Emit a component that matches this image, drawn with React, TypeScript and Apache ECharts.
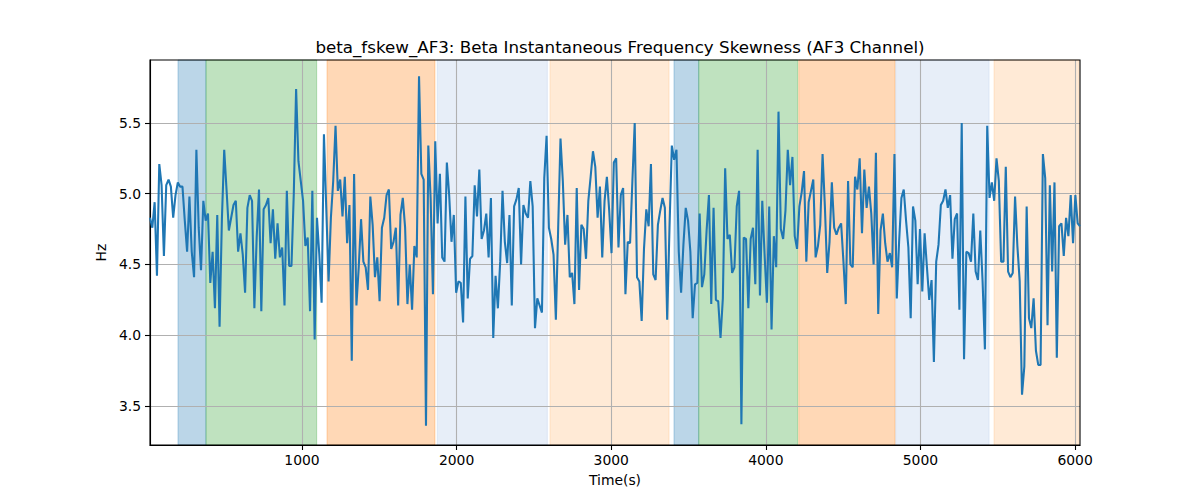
import React, { useEffect, useRef } from "react";
import * as echarts from "echarts";

const TITLE = "beta_fskew_AF3: Beta Instantaneous Frequency Skewness (AF3 Channel)";
const X_NAME = "Time(s)";
const Y_NAME = "Hz";

const T_START = 17;
const T_END = 6032;

const xTicks = [1000, 2000, 3000, 4000, 5000, 6000];
const yTicks = [3.5, 4.0, 4.5, 5.0, 5.5];

const values = [
  4.83, 4.76, 4.94, 4.42, 5.21, 5.06, 4.56, 5.06, 5.10, 5.05,
  4.83, 4.99, 5.08, 5.05, 5.05, 4.81, 4.59, 4.98, 4.59, 4.41,
  5.31, 4.76, 4.46, 4.95, 4.81, 4.86, 4.37, 4.59, 4.19, 4.85,
  4.06, 4.82, 5.31, 5.03, 4.74, 4.83, 4.92, 4.95, 4.59, 4.72,
  4.57, 4.30, 4.90, 4.99, 4.95, 4.19, 4.69, 5.03, 4.17, 4.89,
  4.92, 4.97,
  4.65, 4.89, 4.54, 4.79, 4.55, 4.62, 4.21, 5.02, 4.49, 4.49,
  5.00, 5.74, 5.23, 5.09, 4.95, 4.63, 4.69, 4.17, 5.02, 3.97,
  4.83, 4.57, 4.23, 5.42, 4.90, 4.38, 4.83, 5.09, 5.48, 5.02,
  5.10, 4.84, 5.12, 4.65, 4.92, 3.82, 5.14, 4.21, 4.48, 4.82,
  4.52, 4.48, 4.32, 4.98, 4.78, 4.41, 4.55, 4.24, 4.76, 4.83,
  4.99, 5.03,
  4.61, 4.66, 4.76, 4.21, 4.85, 4.97, 4.76, 4.22, 4.50, 4.18,
  4.63, 4.55, 5.83, 5.14, 5.10, 3.36, 5.34, 4.97, 4.29, 5.37,
  4.79, 5.14, 4.55, 4.52, 5.22, 4.99, 4.66, 4.85, 4.30, 4.38,
  4.37, 4.09, 4.98, 4.26, 4.54, 4.56, 5.06, 4.84, 5.17, 4.68,
  4.74, 4.86, 4.55, 4.97, 3.98, 4.42, 4.19, 4.52, 5.02, 4.66,
  4.51,
  4.85, 4.21, 4.91, 4.96, 5.04, 4.50, 4.92, 4.86, 4.83, 5.09,
  4.91, 4.05, 4.26, 4.21, 4.16, 5.11, 5.41, 4.76, 4.68, 4.57,
  4.11, 4.76, 5.39, 5.09, 4.64, 4.85, 4.41, 4.44, 4.22, 5.04,
  4.32, 4.78, 4.75, 4.54, 4.95, 5.12, 5.30, 5.19, 4.83, 5.05,
  4.55, 4.95, 5.12, 4.88, 4.58, 5.22, 5.25, 4.62, 4.99, 5.04,
  4.29, 4.66,
  4.65, 5.09, 5.50, 4.41, 4.38, 4.10, 4.61, 4.89, 4.77, 5.21,
  4.43, 4.39, 4.78, 4.88, 4.97, 4.90, 4.11, 4.76, 5.34, 5.24,
  5.31, 4.59, 4.30, 4.64, 4.90, 4.81, 4.59, 4.12, 4.36, 4.37,
  4.86, 4.34, 4.43, 4.74, 4.99, 4.22, 4.90, 4.25, 4.24, 3.98,
  4.26, 5.18, 4.68, 4.71, 4.44, 4.48, 4.91, 5.02, 3.37, 4.69,
  4.68, 4.19,
  4.68, 4.76, 4.36, 5.31, 4.28, 4.95, 4.57, 4.23, 4.91, 4.04,
  4.70, 4.48, 5.58, 4.75, 4.68, 4.88, 5.31, 5.06, 5.26, 4.70,
  4.61, 4.91, 5.01, 5.16, 4.52, 4.94, 5.02, 5.10, 4.55, 4.63,
  4.78, 5.28, 4.91, 4.44, 4.66, 5.08, 4.76, 4.71, 4.76, 4.79,
  4.52, 4.22, 5.09, 4.50, 4.48, 5.12, 5.03, 5.25, 4.72, 5.17,
  4.90, 5.05,
  4.86, 4.50, 5.29, 4.15, 4.74, 4.86, 4.65, 4.52, 4.58, 4.48,
  5.28, 4.26, 4.66, 4.97, 5.03, 4.81, 4.62, 4.12, 4.91, 4.81,
  4.36, 4.75, 4.31, 4.72, 4.48, 4.25, 4.39, 3.81, 4.52, 4.64,
  4.92, 4.95, 5.03, 4.90, 4.99, 4.54, 4.82, 4.86, 4.18, 5.50,
  3.83, 4.59, 4.58, 4.52, 4.86, 4.45, 4.39, 4.74, 4.38, 3.90,
  5.48, 4.97,
  5.08, 4.95, 5.25, 5.09, 4.52, 4.52, 5.19, 4.45, 4.41, 4.44,
  4.98, 4.63, 4.38, 3.58, 3.78, 4.91, 4.12, 4.05, 4.26, 3.89,
  3.79, 3.79, 5.28, 5.11, 4.07, 5.06, 4.45, 5.08, 3.84, 4.77,
  4.79, 4.56, 4.83, 4.70, 4.99, 4.65, 4.99, 4.79, 4.77,
];

const spanStarts = [198, 379, 1162, 1875, 2604, 3406, 3566, 4213, 4840, 5476];
const spanEnds = [379, 1095, 1860, 2587, 3374, 3566, 4206, 4836, 5444, 6025];
const spanColors = [
  "rgba(31,119,180,0.3)",
  "rgba(44,160,44,0.3)",
  "rgba(255,127,14,0.3)",
  "rgba(174,199,232,0.3)",
  "rgba(255,187,120,0.3)",
  "rgba(31,119,180,0.3)",
  "rgba(44,160,44,0.3)",
  "rgba(255,127,14,0.3)",
  "rgba(174,199,232,0.3)",
  "rgba(255,187,120,0.3)",
];

const FONT = "DejaVu Sans";

export default function App() {
  const ref = useRef<HTMLDivElement>(null);

  useEffect(() => {
    if (!ref.current) return;
    const chart = echarts.init(ref.current, null, { renderer: "svg" });
    const n = values.length;
    const points = values.map((v, i) => [T_START + (i * (T_END - T_START)) / (n - 1), v]);

    const areas = spanStarts.map((s, i) => [
      { xAxis: s, itemStyle: { color: spanColors[i], borderColor: spanColors[i], borderWidth: 1 } },
      { xAxis: spanEnds[i] },
    ]);

    chart.setOption({
      animation: false,
      backgroundColor: "#ffffff",
      title: {
        text: TITLE,
        left: 615,
        top: 33,
        textAlign: "center",
        textStyle: { fontFamily: FONT, fontSize: 16.7, fontWeight: "normal", color: "#000" },
      },
      grid: {
        left: 150,
        right: 120,
        top: 60,
        bottom: 55,
        show: true,
        borderColor: "#000",
        borderWidth: 1.1,
        backgroundColor: "transparent",
        z: 4,
      },
      xAxis: {
        type: "value",
        min: T_START,
        max: T_END,
        splitNumber: 5,
        z: 3,
        name: X_NAME,
        nameLocation: "middle",
        nameGap: 28,
        nameTextStyle: { fontFamily: FONT, fontSize: 13.9, color: "#000" },
        axisLine: { show: true, onZero: false, lineStyle: { color: "#000", width: 1.1 } },
        axisTick: {
          show: true,
          length: 5,
          lineStyle: { color: "#000", width: 1.1 },
          customValues: xTicks,
        },
        axisLabel: {
          fontFamily: FONT,
          fontSize: 13.9,
          color: "#000",
          margin: 8,
          customValues: xTicks,
          formatter: (v: number) => (Math.abs(v % 1000) < 1e-6 ? String(Math.round(v)) : ""),
        },
        splitLine: { show: true, lineStyle: { color: "#b0b0b0", width: 1.1 } },
      },
      yAxis: {
        type: "value",
        min: 3.224,
        max: 5.945,
        splitNumber: 5,
        z: 3,
        name: Y_NAME,
        nameLocation: "middle",
        nameGap: 38,
        nameRotate: 90,
        nameTextStyle: { fontFamily: FONT, fontSize: 13.9, color: "#000" },
        axisLine: { show: true, onZero: false, lineStyle: { color: "#000", width: 1.1 } },
        axisTick: {
          show: true,
          length: 5,
          lineStyle: { color: "#000", width: 1.1 },
          customValues: yTicks,
        },
        axisLabel: {
          fontFamily: FONT,
          fontSize: 13.9,
          color: "#000",
          margin: 9,
          customValues: yTicks,
          formatter: (v: number) =>
            Math.abs(v * 2 - Math.round(v * 2)) < 1e-6 ? v.toFixed(1) : "",
        },
        splitLine: { show: true, lineStyle: { color: "#b0b0b0", width: 1.1 } },
      },
      series: [
        {
          type: "line",
          data: [],
          z: 1,
          silent: true,
          markArea: { silent: true, data: areas },
        },
        {
          type: "line",
          data: points,
          z: 5,
          showSymbol: false,
          symbol: "none",
          lineStyle: { color: "#1f77b4", width: 2.08 },
          itemStyle: { color: "#1f77b4" },
        },
      ],
    });
    return () => chart.dispose();
  }, []);

  return (
    <div
      ref={ref}
      style={{ position: "fixed", left: 0, top: 0, width: 1200, height: 500, background: "#fff" }}
    />
  );
}
